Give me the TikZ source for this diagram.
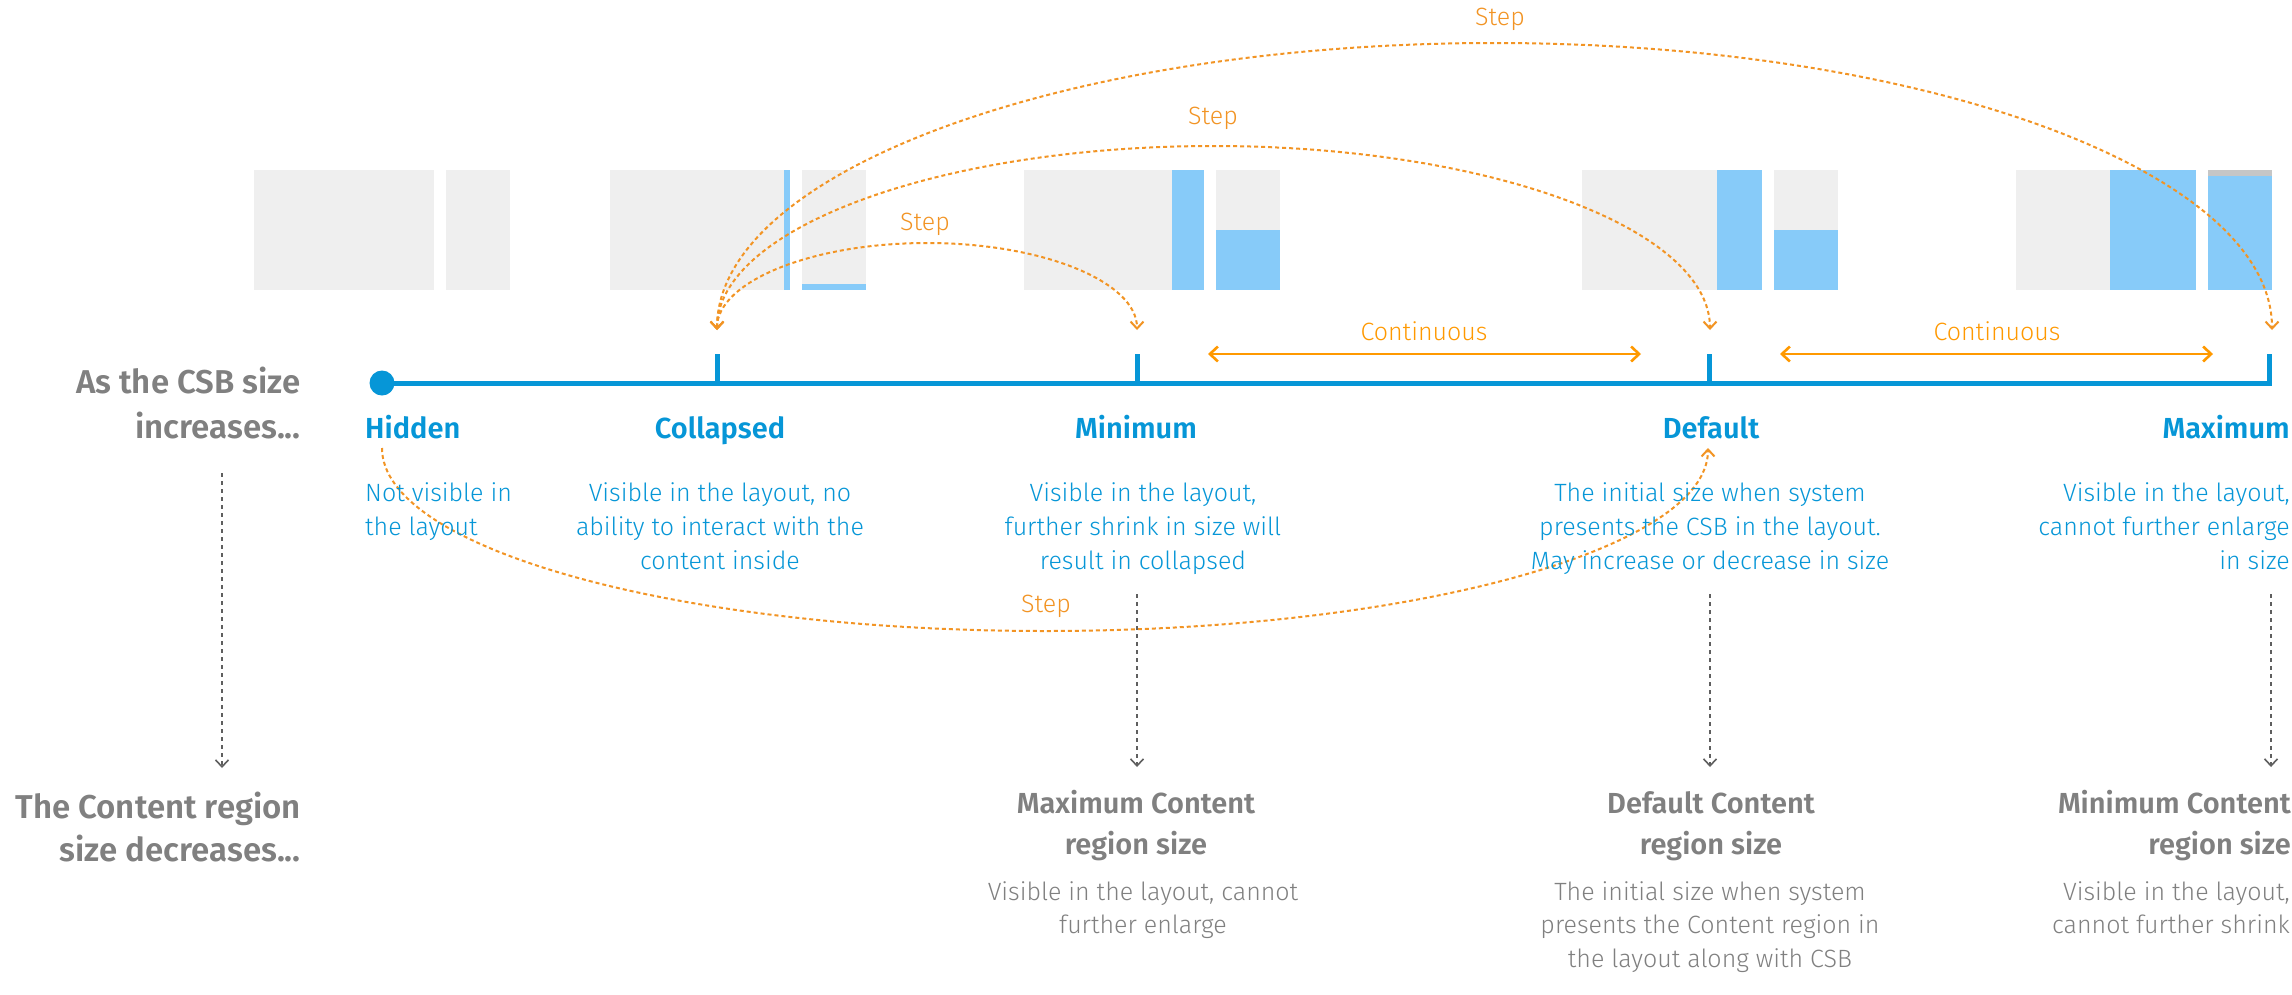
\documentclass[tikz,border=0pt]{standalone}
\usepackage{fontspec}
\usetikzlibrary{arrows.meta}
\IfFontExistsTF{Fira Sans Light}{\newfontfamily\ltf{Fira Sans Light}}{\newfontfamily\ltf{Fira Sans}}
\IfFontExistsTF{Fira Sans SemiBold}{\newfontfamily\bdf{Fira Sans SemiBold}}{\newfontfamily\bdf{Fira Sans Bold}}
\definecolor{csbblue}{RGB}{6,150,215}
\definecolor{lblue}{RGB}{135,203,249}
\definecolor{boxgray}{RGB}{239,239,239}
\definecolor{stripgray}{RGB}{198,198,198}
\definecolor{steporange}{RGB}{242,148,36}
\definecolor{contorange}{RGB}{255,153,0}
\definecolor{txtgray}{RGB}{128,128,128}
\definecolor{dotgray}{RGB}{95,95,95}
\begin{document}
\begin{tikzpicture}[x=1pt,y=-1pt,
  graybox/.style={fill=boxgray},
  bluebox/.style={fill=lblue},
  tline/.style={draw=csbblue,line width=5pt},
  stepline/.style={draw=steporange,line width=2pt,dash pattern=on 4pt off 3pt},
  contarrow/.style={draw=contorange,line width=2.6pt,{Straight Barb[length=8pt,width=15pt]}-{Straight Barb[length=8pt,width=15pt]}},
  vdot/.style={draw=dotgray,line width=1.6pt,dash pattern=on 4pt off 4pt,-{Straight Barb[length=7pt,width=13pt]}},
  steplabel/.style={text=steporange,font=\ltf\fontsize{25}{28}\selectfont,inner sep=0,anchor=base},
  hdr/.style={text=csbblue,font=\bdf\fontsize{29}{35}\selectfont,inner sep=0,anchor=base},
  desc/.style={text=csbblue,font=\ltf\fontsize{25}{34}\selectfont,inner sep=0,anchor=base},
  side/.style={text=txtgray,font=\bdf\fontsize{33}{45}\selectfont,inner sep=0,align=right,anchor=base east},
  chdr/.style={text=txtgray,font=\bdf\fontsize{29}{41}\selectfont,inner sep=0,anchor=base},
  cdesc/.style={text=txtgray,font=\ltf\fontsize{25}{33.5}\selectfont,inner sep=0,anchor=base}
]
\useasboundingbox (0,0) rectangle (2292,994);
\fill[white] (0,0) rectangle (2292,994);

% ---- layout thumbnails
\fill[graybox] (254,170) rectangle (434,290);
\fill[graybox] (446,170) rectangle (510,290);

\fill[graybox] (610,170) rectangle (784,290);
\fill[bluebox] (784,170) rectangle (790,290);
\fill[graybox] (802,170) rectangle (866,290);
\fill[bluebox] (802,284) rectangle (866,290);

\fill[graybox] (1024,170) rectangle (1172,290);
\fill[bluebox] (1172,170) rectangle (1204,290);
\fill[graybox] (1216,170) rectangle (1280,290);
\fill[bluebox] (1216,230) rectangle (1280,290);

\fill[graybox] (1582,170) rectangle (1717,290);
\fill[bluebox] (1717,170) rectangle (1762,290);
\fill[graybox] (1774,170) rectangle (1838,290);
\fill[bluebox] (1774,230) rectangle (1838,290);

\fill[graybox] (2016,170) rectangle (2110,290);
\fill[bluebox] (2110,170) rectangle (2196,290);
\fill[stripgray] (2208,170) rectangle (2272,176);
\fill[bluebox] (2208,176) rectangle (2272,290);

% ---- step arcs
\coordinate (colTip) at (717,330);
\coordinate (minTip) at (1137,330);
\coordinate (defTip) at (1710,330);
\coordinate (maxTip) at (2272,330);
\coordinate (hidFrom) at (382,448);
\coordinate (defUp) at (1708,448);
\draw[stepline,{Straight Barb[length=7pt,width=13pt]}-{Straight Barb[length=7pt,width=13pt]}]
  (colTip) arc[start angle=180,end angle=0,x radius=210pt,y radius=87pt];
\draw[stepline,{Straight Barb[length=7pt,width=13pt]}-{Straight Barb[length=7pt,width=13pt]}]
  (colTip) arc[start angle=180,end angle=0,x radius=496.5pt,y radius=184pt];
\draw[stepline,{Straight Barb[length=7pt,width=13pt]}-{Straight Barb[length=7pt,width=13pt]}]
  (colTip) arc[start angle=180,end angle=0,x radius=777.5pt,y radius=287pt];
\draw[stepline,-{Straight Barb[length=7pt,width=13pt]}]
  (hidFrom) arc[start angle=180,end angle=360,x radius=663pt,y radius=183pt];
\node[steplabel] (step1) at (925,230) {Step};
\node[steplabel] (step2) at (1213,124) {Step};
\node[steplabel] (step3) at (1500,25) {Step};
\node[steplabel] (step4) at (1046,612) {Step};

% ---- continuous arrows
\coordinate (c1L) at (1208,354);
\coordinate (c1R) at (1641,354);
\coordinate (c2L) at (1780,354);
\coordinate (c2R) at (2213,354);
\draw[contarrow] (c1L) -- (c1R);
\draw[contarrow] (c2L) -- (c2R);
\node[steplabel,text=contorange] (cont1) at (1424,340) {Continuous};
\node[steplabel,text=contorange] (cont2) at (1997,340) {Continuous};

% ---- timeline
\node[circle,fill=csbblue,inner sep=0,minimum size=25pt] (hidDot) at (382,383) {};
\coordinate (colB) at (717,383);  \coordinate (colT) at (717,354);
\coordinate (minB) at (1137,383); \coordinate (minT) at (1137,354);
\coordinate (defB) at (1709,383); \coordinate (defT) at (1709,354);
\coordinate (maxB) at (2269,383); \coordinate (maxT) at (2269,354);
\draw[tline] (hidDot.center) -- (maxB) -- (maxT);
\draw[tline] (colB) -- (colT);
\draw[tline] (minB) -- (minT);
\draw[tline] (defB) -- (defT);

% ---- side titles (base anchor = last line)
\node[side] (sideA) at (301,438) {As the CSB size\\increases...};
\node[side,font=\bdf\fontsize{33}{43}\selectfont] (sideB) at (301,861) {The Content region\\size decreases...};

% ---- state headers
\node[hdr,anchor=base west] (hHid) at (365,438) {Hidden};
\node[hdr] (hCol) at (720,438) {Collapsed};
\node[hdr] (hMin) at (1136,438) {Minimum};
\node[hdr] (hDef) at (1711,438) {Default};
\node[hdr,anchor=base east] (hMax) at (2290,438) {Maximum};

% ---- state descriptions
\node[desc,align=left,anchor=base west] (dHid) at (365,535) {Not visible in\\the layout};
\node[desc,align=center] (dCol) at (720,569) {Visible in the layout, no\\ability to interact with the\\content inside};
\node[desc,align=center] (dMin) at (1143,569) {Visible in the layout,\\further shrink in size will\\result in collapsed};
\node[desc,align=center] (dDef) at (1710,569) {The initial size when system\\presents the CSB in the layout.\\May increase or decrease in size};
\node[desc,align=right,anchor=base east] (dMax) at (2290,569) {Visible in the layout,\\cannot further enlarge\\in size};

% ---- vertical dotted arrows
\coordinate (vA1) at (222,473);  \coordinate (vA2) at (222,768);
\coordinate (vB1) at (1137,594); \coordinate (vB2) at (1137,767);
\coordinate (vC1) at (1710,594); \coordinate (vC2) at (1710,767);
\coordinate (vD1) at (2271,594); \coordinate (vD2) at (2271,767);
\draw[vdot] (vA1) -- (vA2);
\draw[vdot] (vB1) -- (vB2);
\draw[vdot] (vC1) -- (vC2);
\draw[vdot] (vD1) -- (vD2);

% ---- content region
\node[chdr,align=center] (cMax) at (1136,854) {Maximum Content\\region size};
\node[chdr,align=center] (cDef) at (1711,854) {Default Content\\region size};
\node[chdr,align=right,anchor=base east] (cMin) at (2291,854) {Minimum Content\\region size};
\node[cdesc,align=center] (cdMax) at (1143,933.5) {Visible in the layout, cannot\\further enlarge};
\node[cdesc,align=center] (cdDef) at (1710,967) {The initial size when system\\presents the Content region in\\the layout along with CSB};
\node[cdesc,align=right,anchor=base east] (cdMin) at (2290,933.5) {Visible in the layout,\\cannot further shrink};
\end{tikzpicture}
\end{document}
